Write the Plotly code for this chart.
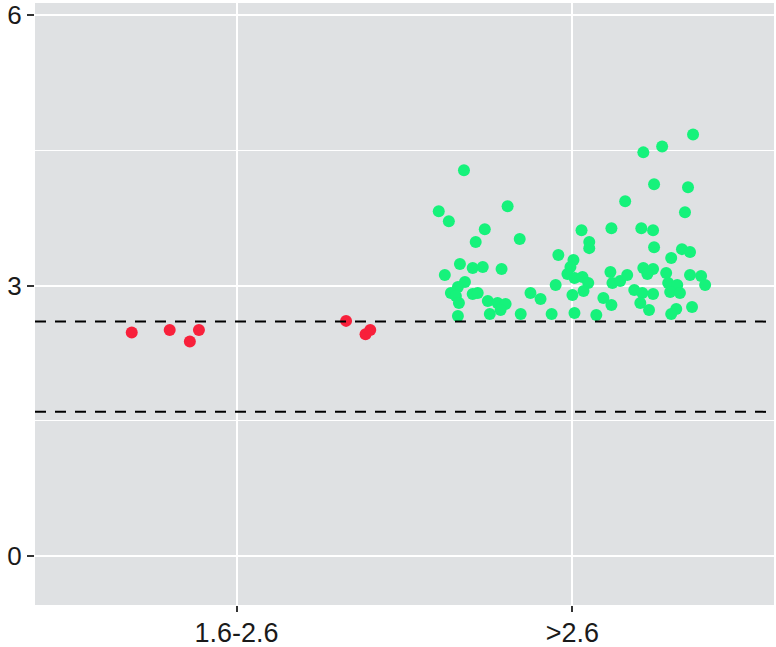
import plotly.graph_objects as go

categories = ["1.6-2.6", ">2.6"]
y_ticks = [0, 3, 6]
thresholds = [2.6, 1.6]

# category "1.6-2.6" (red): jitter offsets and values
red_jitter = [-0.312, -0.199, -0.139, -0.112, 0.326, 0.384, 0.398]
red_values = [2.478, 2.508, 2.379, 2.508, 2.608, 2.461, 2.508]

# category ">2.6" (green): jitter offsets and values
green_jitter = [
    -0.323, -0.398, -0.368, -0.193, -0.261, -0.288, -0.157, -0.335, -0.297, -0.267,
    -0.211, -0.380, -0.320, -0.341, -0.362, -0.347, -0.297, -0.282, -0.338, -0.252,
    -0.223, -0.199, -0.214, -0.246, -0.341, -0.154, -0.125, -0.095, -0.062, -0.050,
    -0.042, 0.003, -0.006, -0.015, 0.006, 0.030, 0.047, 0.033, 0.000, 0.006,
    0.027, 0.050, 0.050, 0.071, 0.092, 0.116, 0.116, 0.113, 0.119, 0.157,
    0.142, 0.163, 0.184, 0.208, 0.240, 0.202, 0.228, 0.211, 0.267, 0.359,
    0.243, 0.344, 0.335, 0.205, 0.240, 0.243, 0.326, 0.350, 0.294, 0.211,
    0.240, 0.223, 0.279, 0.285, 0.312, 0.350, 0.383, 0.395, 0.291, 0.320,
    0.356, 0.309, 0.294,
]
green_values = [
    4.276, 3.823, 3.713, 3.878, 3.624, 3.481, 3.514, 3.238, 3.193, 3.204,
    3.182, 3.116, 3.039, 2.983, 2.917, 2.884, 2.906, 2.917, 2.807, 2.829,
    2.807, 2.796, 2.729, 2.685, 2.663, 2.685, 2.917, 2.851, 2.685, 3.006,
    3.337, 3.282, 3.204, 3.127, 3.083, 3.094, 3.028, 2.939, 2.895, 2.696,
    3.613, 3.481, 3.414, 2.674, 2.862, 2.785, 3.635, 3.149, 3.028, 3.934,
    3.050, 3.116, 2.950, 2.917, 2.906, 2.807, 2.729, 4.475, 4.541, 4.674,
    4.122, 4.088, 3.812, 3.635, 3.613, 3.425, 3.403, 3.370, 3.304, 3.193,
    3.182, 3.127, 3.138, 3.028, 3.006, 3.116, 3.105, 3.006, 2.928, 2.917,
    2.762, 2.740, 2.685,
]

red_x = [1 + j for j in red_jitter]
green_x = [2 + j for j in green_jitter]

fig = go.Figure()
fig.add_trace(go.Scatter(x=red_x, y=red_values, mode="markers",
                         marker=dict(color="#F8203B", size=12, line=dict(width=0)),
                         showlegend=False))
fig.add_trace(go.Scatter(x=green_x, y=green_values, mode="markers",
                         marker=dict(color="#16F27B", size=12, line=dict(width=0)),
                         showlegend=False))

for t in thresholds:
    fig.add_shape(type="line", xref="paper", x0=0, x1=1, yref="y", y0=t, y1=t,
                  line=dict(color="black", width=2, dash="11px,9px"), layer="above")

fig.update_layout(
    width=776, height=647,
    margin=dict(l=35, r=2, t=3, b=42, autoexpand=False),
    paper_bgcolor="white",
    plot_bgcolor="#DFE1E3",
    font=dict(family="Liberation Sans, Arial, sans-serif", size=27, color="#1a1a1a"),
    xaxis=dict(range=[0.4, 2.6], tickvals=[1, 2], ticktext=categories,
               showgrid=True, gridcolor="white", gridwidth=2, zeroline=False,
               ticks="outside", ticklen=6, tickwidth=2, tickcolor="#333333",
               showline=False, automargin=False, ticklabeloverflow="allow",
               ticklabelstandoff=-2,
               tickfont=dict(size=27, color="#1a1a1a")),
    yaxis=dict(range=[-0.54, 6.13], tickvals=y_ticks,
               showgrid=True, gridcolor="white", gridwidth=2, zeroline=False,
               ticks="outside", ticklen=7, tickwidth=2, tickcolor="#333333",
               showline=False, automargin=False, ticklabeloverflow="allow",
               tickfont=dict(size=26, color="#1a1a1a"),
               minor=dict(tickvals=[1.5, 4.5], showgrid=True, gridcolor="white",
                          gridwidth=1, ticks="")),
)

fig.write_html("out.html")
